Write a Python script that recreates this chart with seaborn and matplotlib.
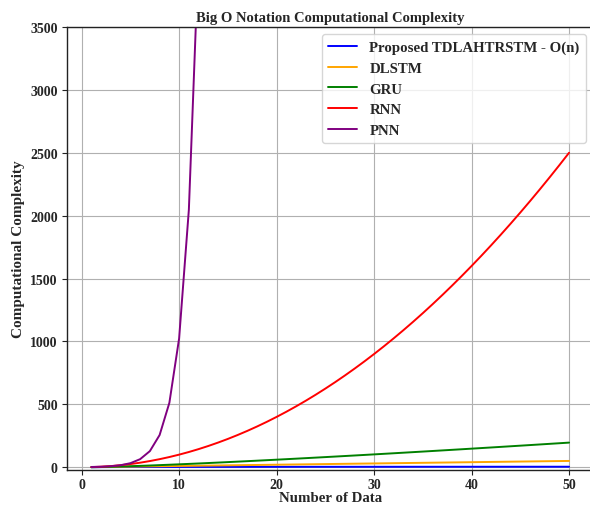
import matplotlib
matplotlib.use("Agg")
import matplotlib.pyplot as plt
import seaborn as sns
import pandas as pd

n_data = list(range(1, 51))
proposed = [0.00, 0.69, 1.10, 1.39, 1.61, 1.79, 1.95, 2.08, 2.20, 2.30,
            2.40, 2.48, 2.56, 2.64, 2.71, 2.77, 2.83, 2.89, 2.94, 3.00,
            3.04, 3.09, 3.14, 3.18, 3.22, 3.26, 3.30, 3.33, 3.37, 3.40,
            3.43, 3.47, 3.50, 3.53, 3.56, 3.58, 3.61, 3.64, 3.66, 3.69,
            3.71, 3.74, 3.76, 3.78, 3.81, 3.83, 3.85, 3.87, 3.89, 3.91]
dlstm = [1, 2, 3, 4, 5, 6, 7, 8, 9, 10, 11, 12, 13, 14, 15, 16, 17, 18, 19, 20,
         21, 22, 23, 24, 25, 26, 27, 28, 29, 30, 31, 32, 33, 34, 35, 36, 37, 38, 39, 40,
         41, 42, 43, 44, 45, 46, 47, 48, 49, 50]
gru = [0.00, 1.39, 3.30, 5.55, 8.05, 10.75, 13.62, 16.64, 19.78, 23.03,
       26.38, 29.82, 33.34, 36.95, 40.62, 44.36, 48.16, 52.03, 55.94, 59.91,
       63.93, 68.00, 72.12, 76.27, 80.47, 84.71, 88.99, 93.30, 97.65, 102.04,
       106.45, 110.90, 115.38, 119.90, 124.44, 129.01, 133.60, 138.23, 142.88, 147.56,
       152.26, 156.98, 161.73, 166.51, 171.30, 176.12, 180.96, 185.82, 190.70, 195.60]
rnn = [1, 4, 9, 16, 25, 36, 49, 64, 81, 100, 121, 144, 169, 196, 225, 256, 289, 324,
       361, 400, 441, 484, 529, 576, 625, 676, 729, 784, 841, 900, 961, 1024, 1089,
       1156, 1225, 1296, 1369, 1444, 1521, 1600, 1681, 1764, 1849, 1936, 2025, 2116,
       2209, 2304, 2401, 2500]
pnn_x = [1, 2, 3, 4, 5, 6, 7, 8, 9, 10, 11, 12]
pnn = [2, 4, 8, 16, 32, 64, 128, 256, 512, 1024, 2048, 4096]

labels = ["Proposed TDLAHTRSTM - O(n)", "DLSTM", "GRU", "RNN", "PNN"]
colors = ["blue", "orange", "green", "red", "purple"]

sns.set_style("ticks", {"axes.grid": True, "grid.color": "#b0b0b0",
                        "axes.edgecolor": "#222222"})
plt.rcParams["font.family"] = ["Liberation Serif", "DejaVu Serif"]
plt.rcParams["font.weight"] = "bold"

fig = plt.figure(figsize=(5.9, 5.06), dpi=100)
ax = fig.add_axes([0.1144, 0.0692, 0.8906, 0.8755])

series = [(n_data, proposed), (n_data, dlstm), (n_data, gru), (n_data, rnn), (pnn_x, pnn)]
for (xs, ys), lab, col in zip(series, labels, colors):
    df = pd.DataFrame({"x": xs, "y": ys})
    sns.lineplot(data=df, x="x", y="y", ax=ax, color=col, label=lab, linewidth=1.4)

ax.set_xlim(-1.45, 52.45)
ax.set_ylim(-22, 3500)
ax.set_xticks([0, 10, 20, 30, 40, 50])
ax.set_yticks(range(0, 3501, 500))
ax.grid(True, color="#b0b0b0", linewidth=0.8)
for s in ax.spines.values():
    s.set_color("#222222")
    s.set_linewidth(1.0)
ax.tick_params(axis="both", labelsize=10, length=3.5, width=0.8, color="#222222")
ax.tick_params(axis="x", pad=2)
for t in ax.get_xticklabels() + ax.get_yticklabels():
    t.set_fontweight("bold")

ax.set_title("Big O Notation Computational Complexity", fontsize=10.5, fontweight="bold", pad=4)
ax.set_xlabel("Number of Data", fontsize=10.7, fontweight="bold", labelpad=0)
ax.set_ylabel("Computational Complexity", fontsize=11, fontweight="bold", labelpad=4)

leg = ax.legend(loc="upper right", prop={"weight": "bold", "size": 10.7},
                framealpha=0.8, fancybox=True, handlelength=2.0)
leg.get_frame().set_edgecolor("#cccccc")

fig.savefig("out.png", dpi=100)
